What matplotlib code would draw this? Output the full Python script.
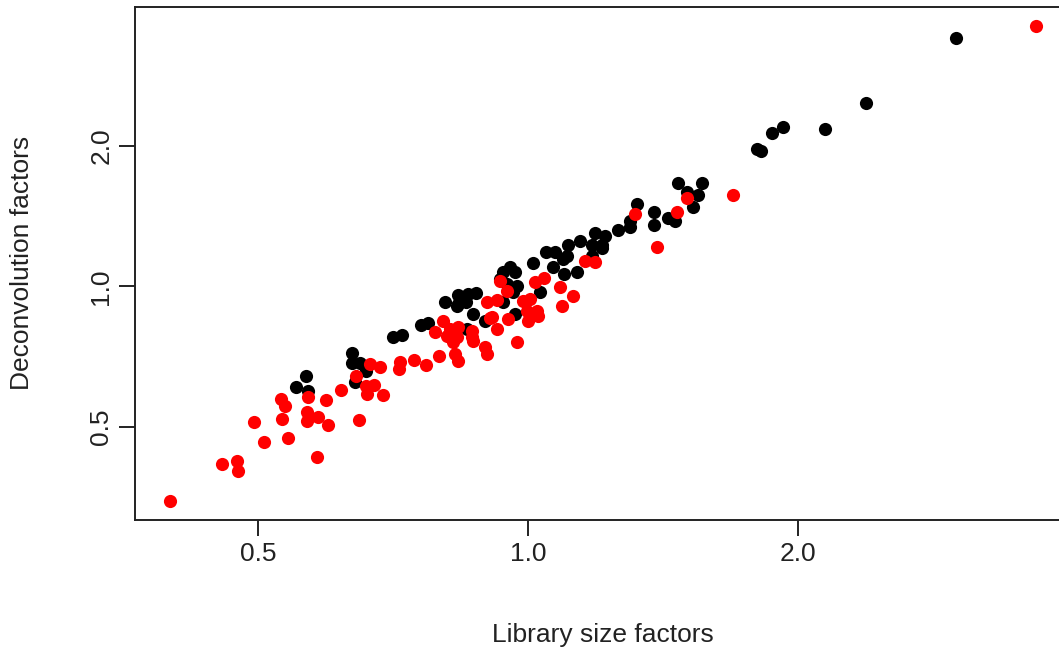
import numpy as np
import matplotlib
matplotlib.use("Agg")
import matplotlib.pyplot as plt
from matplotlib.ticker import FixedLocator, FixedFormatter, NullLocator

plt.rcParams['font.family'] = ['Liberation Sans', 'DejaVu Sans']

# library size factors (x) and deconvolution factors (y), black group
lib_black = [0.551, 0.566, 0.569, 0.636, 0.636, 0.650, 0.660, 0.641, 0.707, 0.723,
             0.760, 0.774, 0.808, 0.835, 0.833, 0.857, 0.875, 0.868, 0.855, 0.896,
             0.930, 0.938, 0.955, 0.967, 0.948, 0.962, 0.938, 0.967, 1.031, 1.013,
             1.047, 1.072, 1.066, 1.094, 1.097, 1.134, 1.108, 1.143, 1.178, 1.209,
             1.178, 1.188, 1.219, 1.209, 1.260, 1.299, 1.299, 1.323, 1.382, 1.382,
             1.433, 1.458, 1.470, 1.563, 1.504, 1.547, 1.527, 1.800, 1.819, 1.871,
             1.924, 2.144, 2.381, 3.000, 0.835, 0.853, 0.972, 1.105]
dec_black = [0.609, 0.643, 0.597, 0.719, 0.685, 0.685, 0.658, 0.624, 0.778, 0.786,
             0.826, 0.834, 0.924, 0.957, 0.906, 0.961, 0.966, 0.871, 0.809, 0.842,
             1.035, 1.071, 1.098, 1.076, 1.010, 0.971, 0.924, 0.871, 0.971, 1.120,
             1.182, 1.182, 1.098, 1.142, 1.061, 1.076, 1.229, 1.248, 1.229, 1.229,
             1.159, 1.304, 1.279, 1.211, 1.323, 1.377, 1.337, 1.504, 1.446, 1.356,
             1.404, 1.377, 1.668, 1.668, 1.595, 1.572, 1.482, 1.971, 1.952, 2.132,
             2.196, 2.175, 2.471, 3.401, 0.915, 0.924, 1.000, 1.159]

# red group
lib_red = [0.399, 0.456, 0.474, 0.475, 0.495, 0.508, 0.530, 0.536, 0.532, 0.540,
           0.569, 0.567, 0.567, 0.583, 0.598, 0.582, 0.595, 0.619, 0.643, 0.667,
           0.684, 0.660, 0.674, 0.661, 0.689, 0.648, 0.720, 0.717, 0.746, 0.770,
           0.788, 0.804, 0.796, 0.819, 0.835, 0.833, 0.866, 0.866, 0.829, 0.835,
           0.812, 0.825, 0.868, 0.900, 0.923, 0.907, 0.923, 0.950, 0.972, 0.896,
           0.900, 0.912, 0.930, 0.948, 0.987, 1.005, 0.997, 1.023, 1.026, 1.000,
           1.018, 1.042, 1.086, 1.091, 1.122, 1.158, 1.188, 1.316, 1.504, 1.466,
           1.393, 1.693, 3.680]
dec_red = [0.347, 0.417, 0.423, 0.403, 0.512, 0.465, 0.574, 0.554, 0.520, 0.474,
           0.579, 0.538, 0.515, 0.525, 0.505, 0.432, 0.571, 0.600, 0.643, 0.681,
           0.672, 0.612, 0.615, 0.588, 0.585, 0.518, 0.688, 0.665, 0.695, 0.678,
           0.798, 0.842, 0.709, 0.809, 0.817, 0.778, 0.778, 0.802, 0.716, 0.692,
           0.782, 0.759, 0.763, 0.924, 0.934, 0.855, 0.809, 0.850, 0.759, 0.741,
           0.716, 0.859, 1.025, 0.976, 0.929, 0.938, 0.884, 0.884, 0.863, 0.842,
           1.020, 1.040, 0.995, 0.906, 0.952, 1.131, 1.125, 1.425, 1.549, 1.446,
           1.217, 1.572, 3.610]

fig = plt.figure(figsize=(10.59, 6.51), dpi=100)
ax = fig.add_axes([135/1059, 131/651, 935/1059, 513/651])

ax.scatter(lib_black, dec_black, s=90, c='black', linewidths=0, zorder=3)
ax.scatter(lib_red, dec_red, s=90, c='#ff0000', linewidths=0, zorder=3)

ax.set_xscale('log', base=2)
ax.set_yscale('log', base=2)
ax.set_xlim(0.3645, 4.02)
ax.set_ylim(0.3164, 3.96)

ticks = [0.5, 1.0, 2.0]
tick_labels = ['0.5', '1.0', '2.0']
for axis in (ax.xaxis, ax.yaxis):
    axis.set_major_locator(FixedLocator(ticks))
    axis.set_major_formatter(FixedFormatter(tick_labels))
    axis.set_minor_locator(NullLocator())

for sp in ax.spines.values():
    sp.set_linewidth(1.4)
    sp.set_color('#222222')

ax.tick_params(length=11.5, width=1.4, color='#222222', labelsize=19,
               labelcolor='#222222', pad=4)
ax.tick_params(axis='y', labelrotation=90)
for lab in ax.get_yticklabels():
    lab.set_va('center')

fig.text(603/1059, 1 - 635/651, 'Library size factors', ha='center', va='center',
         fontsize=19, color='#222222')
fig.text(22/1059, 1 - 263/651, 'Deconvolution factors', ha='center', va='center',
         rotation=90, fontsize=19, color='#222222')

fig.savefig('out.png', dpi=100)
